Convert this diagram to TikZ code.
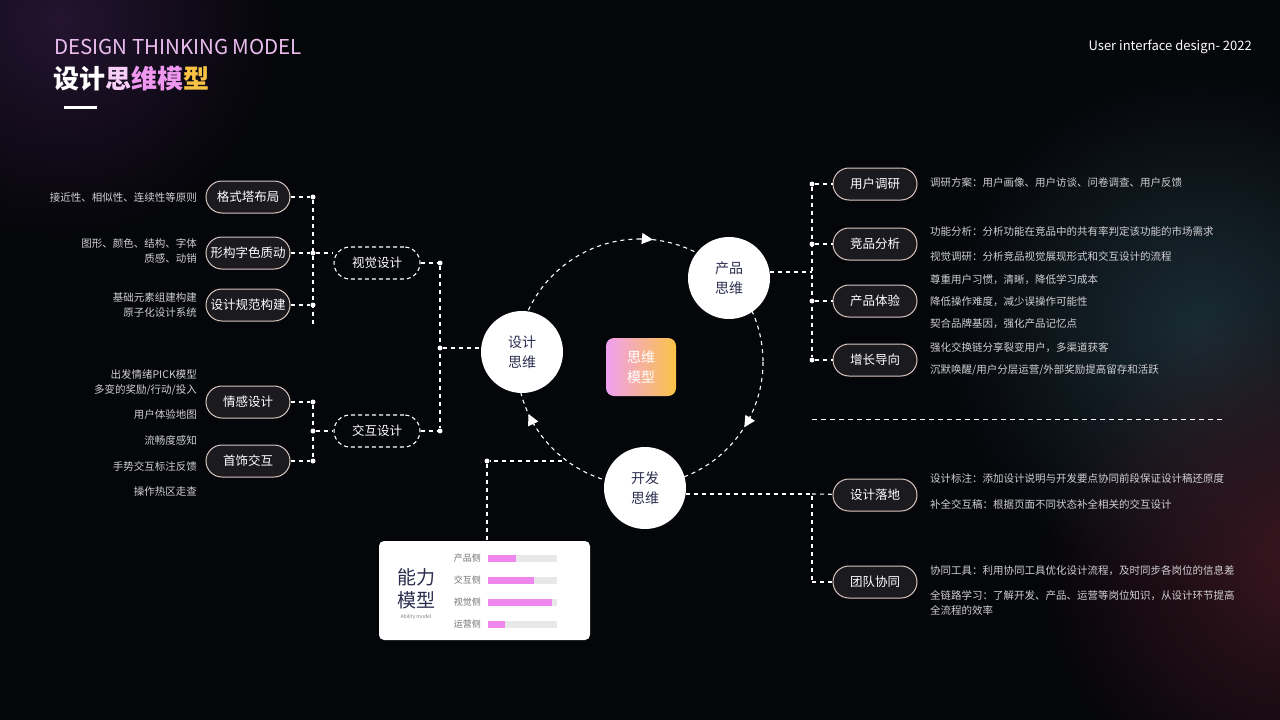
\documentclass[tikz,border=0pt]{standalone}
\usepackage{fontspec}
\setmainfont{Noto Sans CJK SC}
\usetikzlibrary{arrows.meta,shapes.geometric,fadings}
\tikzfading[name=glowfade, inner color=transparent!0, outer color=transparent!100]
\definecolor{bg}{HTML}{05060A}
\definecolor{pill}{HTML}{1B1A1F}
\definecolor{pillb}{HTML}{D9C7BF}
\definecolor{navy}{HTML}{2B2D4F}
\definecolor{pink}{HTML}{EE86EE}
\definecolor{txt}{HTML}{D0D0D4}
\definecolor{glowa}{HTML}{1A2C34}
\definecolor{glowb}{HTML}{3A1620}
\definecolor{glowc}{HTML}{241430}
\definecolor{gpink}{HTML}{F0A0F0}
\definecolor{gorange}{HTML}{FAC346}
\definecolor{tpink}{HTML}{ECBEF0}
\tikzset{
 dl/.style={white,line width=1.1pt,dash pattern=on 4pt off 4pt},
 pl/.style={draw=pillb,fill=pill,line width=1pt,rounded corners=16pt,minimum width=84pt,minimum height=32pt,text=white,font=\fontsize{12.5}{14}\selectfont,inner sep=0pt},
 dpl/.style={draw=white,fill=bg,line width=1.1pt,dash pattern=on 4pt off 3pt,rounded corners=16pt,minimum width=86pt,minimum height=32pt,text=white,font=\fontsize{12.5}{14}\selectfont,inner sep=0pt},
 big/.style={circle,fill=white,minimum size=82pt,inner sep=0pt,text=navy,align=center,font=\fontsize{14}{20}\selectfont},
 ld/.style={anchor=east,align=right,text=txt,font=\fontsize{10.5}{15}\selectfont,inner sep=0pt},
 rd/.style={anchor=west,align=left,text=txt,font=\fontsize{10.5}{15}\selectfont,inner sep=0pt},
 dot/.style={circle,fill=white,minimum size=5pt,inner sep=0pt},
 bl/.style={anchor=east,text=gray!90!black,font=\fontsize{9}{10}\selectfont,inner sep=0pt},
}
\begin{document}
\begin{tikzpicture}[x=1pt,y=-1pt]
\fill[bg] (0,0) rectangle (1280,720);
\useasboundingbox (0,0) rectangle (1280,720);
\begin{scope}
\clip (0,0) rectangle (1280,720);
\fill[glowa, path fading=glowfade] (1200,330) circle (260);
\fill[glowb, path fading=glowfade] (1300,560) circle (260);
\fill[glowc, path fading=glowfade] (60,20) circle (220);
\end{scope}
% title
\node[anchor=west,inner sep=0pt,font=\fontsize{20.5}{22}\selectfont,text=tpink] (t1) at (54,47) {DESIGN THINKING MODEL};
\node[anchor=west,inner sep=0pt,font=\fontsize{26}{28}\bfseries\selectfont] (t2) at (53,79) {\textcolor{white}{设计}\textcolor{white!60!pink}{思}\textcolor{pink!85!white}{维模}\textcolor{gorange}{型}};
\draw[white,line width=3pt] (64,107) -- (97,107);
\node[anchor=east,inner sep=0pt,text=white,font=\fontsize{13}{14}\selectfont] (t3) at (1252,47) {User interface design- 2022};
% central cycle
\coordinate (C) at (640,362);
\draw[dl] (C) circle (123);
\foreach \a in {-85,31,154}{
 \draw[white,line width=1.1pt,-{Triangle[length=11pt,width=11pt]}] ([shift={(C)}]\a-5:123) arc (\a-5:\a+1:123);
}
\node[big] (ds) at (522,352) {设计\\思维};
\node[big] (cp) at (729,278) {产品\\思维};
\node[big] (kf) at (645,488) {开发\\思维};
\shade[left color=gpink,right color=gorange,rounded corners=8pt] (606,338) rectangle (676,396);
\node[text=white,align=center,font=\fontsize{14}{20}\selectfont] (sm) at (641,367) {思维\\模型};
% left tree
\node[pl] (a1) at (248,197) {格式塔布局};
\node[pl] (a2) at (248,253) {形构字色质动};
\node[pl] (a3) at (248,305) {设计规范构建};
\node[pl] (a4) at (248,402) {情感设计};
\node[pl] (a5) at (248,461) {首饰交互};
\node[dpl] (v) at (377,263) {视觉设计};
\node[dpl] (j) at (377,431) {交互设计};
\node[dot] (d1) at (313,197) {}; \node[dot] (d2) at (313,253) {}; \node[dot] (d3) at (313,305) {};
\node[dot] (d4) at (313,402) {}; \node[dot] (d5) at (313,461) {}; \node[dot] (d6) at (313,431) {};
\node[dot] (e1) at (440,263) {}; \node[dot] (e2) at (440,348) {}; \node[dot] (e3) at (440,431) {};
\coordinate (l1) at (313,325);
\draw[dl] (a1) -- (d1); \draw[dl] (a2) -- (d2); \draw[dl] (a3) -- (d3);
\draw[dl] (a4) -- (d4); \draw[dl] (a5) -- (d5);
\draw[dl] (d1) -- (l1); \draw[dl] (d4) -- (d5);
\draw[dl] (d2) -- (d2 -| v.west); \draw[dl] (d6) -- (j);
\draw[dl] (v) -- (e1); \draw[dl] (j) -- (e3); \draw[dl] (e1) -- (e3);
\draw[dl] (e2) -- (e2 -| ds.west);
\node[ld] (b1) at (197,197) {接近性、相似性、连续性等原则};
\node[ld] (b2) at (197,251) {图形、颜色、结构、字体\\质感、动销};
\node[ld] (b3) at (197,305) {基础元素组建构建\\原子化设计系统};
\node[ld] (b4) at (197,383) {出发情绪PICK模型\\多变的奖励/行动/投入};
\node[ld] (b5) at (197,415) {用户体验地图};
\node[ld] (b6) at (197,440) {流畅度感知};
\node[ld] (b7) at (197,466) {手势交互标注反馈};
\node[ld] (b8) at (197,492) {操作热区走查};
% right tree
\node[pl] (r1) at (875,184) {用户调研};
\node[pl] (r2) at (875,244) {竞品分析};
\node[pl] (r3) at (875,301) {产品体验};
\node[pl] (r4) at (875,360) {增长导向};
\node[pl] (r5) at (875,495) {设计落地};
\node[pl] (r6) at (875,582) {团队协同};
\node[dot] (f1) at (812,184) {}; \node[dot] (f2) at (812,244) {}; \node[dot] (f3) at (812,301) {}; \node[dot] (f4) at (812,360) {};
\coordinate (g0) at (812,272);
\coordinate (g1) at (812,494); \coordinate (g2) at (812,582);
\draw[dl] (f1) -- (r1); \draw[dl] (f2) -- (r2); \draw[dl] (f3) -- (r3); \draw[dl] (f4) -- (r4);
\draw[dl] (f1) -- (f4); \draw[dl] (g0 -| cp.east) -- (g0);
\draw[dl] (g1 -| kf.east) -- (g1) -- (g2); \draw[dl] (g1) -- (r5); \draw[dl] (g2) -- (r6);
\coordinate (s1) at (812,419); \coordinate (s2) at (1226,419);
\draw[white,line width=1pt,dash pattern=on 5pt off 4pt] (s1) -- (s2);
\node[rd] (c1) at (930,183) {调研方案：用户画像、用户访谈、问卷调查、用户反馈};
\node[rd] (c2) at (930,231) {功能分析：分析功能在竞品中的共有率判定该功能的市场需求};
\node[rd] (c3) at (930,256) {视觉调研：分析竞品视觉展现形式和交互设计的流程};
\node[rd] (c4) at (930,280) {尊重用户习惯，清晰，降低学习成本};
\node[rd] (c5) at (930,302) {降低操作难度，减少误操作可能性};
\node[rd] (c6) at (930,324) {契合品牌基因，强化产品记忆点};
\node[rd] (c7) at (930,348) {强化交换链分享裂变用户，多渠道获客};
\node[rd] (c8) at (930,370) {沉默唤醒/用户分层运营/外部奖励提高留存和活跃};
\node[rd] (c9) at (930,479) {设计标注：添加设计说明与开发要点协同前段保证设计稿还原度};
\node[rd] (c10) at (930,504) {补全交互稿：根据页面不同状态补全相关的交互设计};
\node[rd] (c11) at (930,571) {协同工具：利用协同工具优化设计流程，及时同步各岗位的信息差};
\node[rd] (c12) at (930,603) {全链路学习：了解开发、产品、运营等岗位知识，从设计环节提高\\全流程的效率};
% ability card
\node[dot] (h1) at (487,461) {};
\coordinate (h2) at (562,461);
\node[fill=white,rounded corners=5pt,minimum width=211pt,minimum height=99pt,inner sep=0pt] (card) at (484.5,590.5) {};
\draw[dl] (h2) -- (h1) -- (card.north -| h1);
\node[text=navy,align=center,font=\fontsize{19}{23}\selectfont,inner sep=0pt] (nl) at (416,589) {能力\\模型};
\node[text=gray,font=\fontsize{5}{6}\selectfont,inner sep=0pt] (am) at (416,617) {Ability model};
\foreach \y/\l/\w in {558/产品侧/516,580/交互侧/534,602/视觉侧/552,624/运营侧/505}{
 \node[bl] at (481,\y) {\l};
 \fill[gray!18] (488,\y-3.5) rectangle (557,\y+3.5);
 \fill[pink] (488,\y-3.5) rectangle (\w,\y+3.5);
}
\end{tikzpicture}
\end{document}
